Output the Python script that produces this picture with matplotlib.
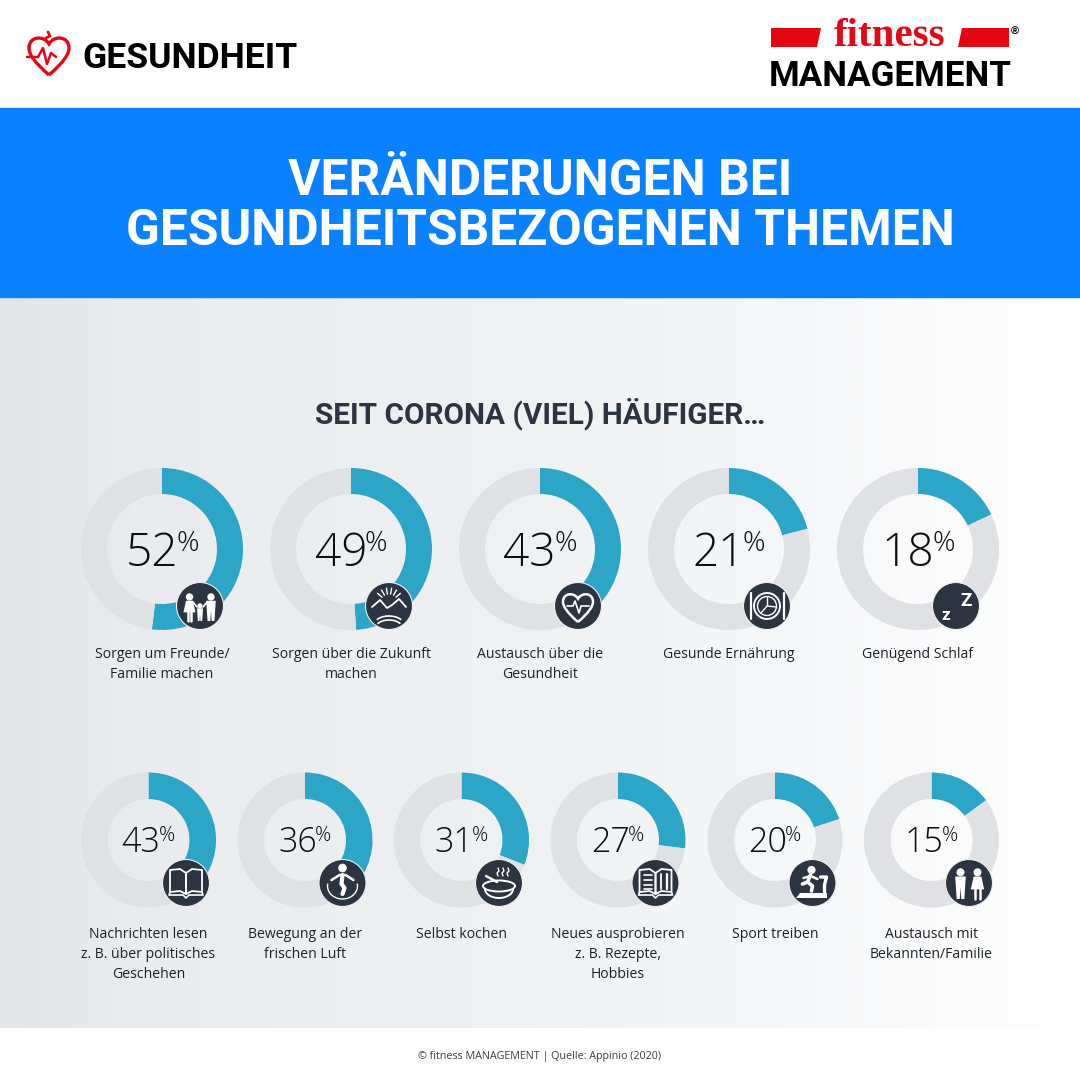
"""Donut infographic: Veränderungen bei gesundheitsbezogenen Themen."""

import matplotlib

matplotlib.use("Agg")
import matplotlib.pyplot as plt
import numpy as np
from matplotlib.patches import Circle, Ellipse, PathPatch, Polygon, Rectangle
from matplotlib.path import Path

TITLE_LINES = ["VERÄNDERUNGEN BEI", "GESUNDHEITSBEZOGENEN THEMEN"]
SUBTITLE = "SEIT CORONA (VIEL) HÄUFIGER…"
FOOTER = "© fitness MANAGEMENT | Quelle: Appinio (2020)"

top_values = [52, 49, 43, 21, 18]
top_labels = [
    "Sorgen um Freunde/\nFamilie machen",
    "Sorgen über die Zukunft\nmachen",
    "Austausch über die\nGesundheit",
    "Gesunde Ernährung",
    "Genügend Schlaf",
]
top_icons = ["family", "horizon", "heart", "plate", "sleep"]

bottom_values = [43, 36, 31, 27, 20, 15]
bottom_labels = [
    "Nachrichten lesen\nz. B. über politisches\nGeschehen",
    "Bewegung an der\nfrischen Luft",
    "Selbst kochen",
    "Neues ausprobieren\nz. B. Rezepte,\nHobbies",
    "Sport treiben",
    "Austausch mit\nBekannten/Familie",
]
bottom_icons = ["book", "rope", "pan", "recipe", "treadmill", "couple"]

TEAL = "#2ca5c6"
GREY = "#dfe1e5"
DARK = "#2b3440"
BLUE = "#0a82ff"
RED = "#e30613"
TEXT = "#1d2126"

plt.rcParams["font.family"] = ["Open Sans", "DejaVu Sans"]

fig = plt.figure(figsize=(10.8, 10.8), dpi=100, facecolor="white")
ax = fig.add_axes([0, 0, 1, 1])


def px(size):
    return size * 0.72


def line(xs, ys, color="white", lw=1.2, z=6):
    ax.plot(xs, ys, color=color, lw=lw, zorder=z, solid_capstyle="round", solid_joinstyle="round")


def poly(points, color="white", z=6, fill=True, lw=1.2):
    ax.add_patch(Polygon(points, closed=True, fill=fill, facecolor=color if fill else "none",
                         edgecolor=color, lw=lw if not fill else 0, zorder=z, joinstyle="round"))


def person(cx, top, h, dress=False):
    w = h * 0.16
    ax.add_patch(Circle((cx, top + h * 0.11), h * 0.11, color="white", zorder=6))
    if dress:
        poly([(cx - w * 0.8, top + h * 0.25), (cx + w * 0.8, top + h * 0.25),
              (cx + w * 1.4, top + h * 0.68), (cx - w * 1.4, top + h * 0.68)])
        line([cx - w * 0.45, cx - w * 0.45], [top + h * 0.68, top + h], lw=1.8)
        line([cx + w * 0.45, cx + w * 0.45], [top + h * 0.68, top + h], lw=1.8)
    else:
        poly([(cx - w * 1.1, top + h * 0.25), (cx + w * 1.1, top + h * 0.25), (cx + w * 0.8, top + h),
              (cx + w * 0.15, top + h), (cx, top + h * 0.62), (cx - w * 0.15, top + h), (cx - w * 0.8, top + h)])


def draw_icon(kind, x, y, r=23.5):
    ax.add_patch(Circle((x, y), r, fc=DARK, ec="#eceef0", lw=0.8, zorder=5))
    if kind == "family":
        person(x - 10.5, y - 12, 27, dress=True)
        person(x + 11, y - 12, 27)
        person(x, y - 2, 17)
        line([x - 7, x - 3], [y - 4, y + 1])
        line([x + 7, x + 3], [y - 4, y + 1])
    elif kind == "horizon":
        line([x - 17, x - 9, x - 2, x + 3, x + 10, x + 17], [y + 1, y - 6, y + 2, y - 1, y - 7, y + 1], lw=1.3)
        for a in np.radians([-140, -120, -100, -80, -60, -40]):
            line([x + 9 * np.cos(a), x + 15 * np.cos(a)], [y - 3 + 9 * np.sin(a), y - 3 + 15 * np.sin(a)], lw=1)
        t = np.linspace(-0.9, 0.9, 20)
        line(x + 15 * np.sin(t), y + 19 - 9 * np.cos(t), lw=1.2)
        line(x + 14 * np.sin(t), y + 23 - 9 * np.cos(t), lw=1.2)
    elif kind == "heart":
        heart_outline(x, y + 1, 15, "white", 1.8, 6)
        line([x - 11, x - 5, x - 3, x + 1, x + 3, x + 11], [y, y, y - 5, y + 7, y, y], lw=1.2)
    elif kind == "plate":
        ax.add_patch(Circle((x, y), 13, fill=False, ec="white", lw=1.4, zorder=6))
        ax.add_patch(Circle((x, y), 9.5, fill=False, ec="white", lw=1, zorder=6))
        line([x, x], [y, y - 9.5], lw=1)
        line([x, x + 9.5], [y, y + 1], lw=1)
        line([x, x - 6], [y, y + 7], lw=1)
        line([x - 16.5, x - 16.5], [y - 13, y + 13], lw=1.6)
        line([x + 16.5, x + 16.5], [y - 13, y + 13], lw=1.6)
    elif kind == "sleep":
        ax.text(x + 4, y - 5, "Z", color="white", fontsize=px(19), fontweight="bold", ha="left",
                va="center", zorder=6, family=["Roboto", "DejaVu Sans"])
        ax.text(x - 6, y + 9, "z", color="white", fontsize=px(17), fontweight="bold", ha="right",
                va="center", zorder=6, family=["Roboto", "DejaVu Sans"])
    elif kind in ("book", "recipe"):
        poly([(x - 16, y - 13), (x - 6, y - 14), (x, y - 10), (x, y + 11), (x - 6, y + 8), (x - 16, y + 9)],
             fill=False, lw=1.3)
        poly([(x + 16, y - 13), (x + 6, y - 14), (x, y - 10), (x, y + 11), (x + 6, y + 8), (x + 16, y + 9)],
             fill=False, lw=1.3)
        line([x - 16, x - 17, x - 3, x, x + 3, x + 17, x + 16],
             [y + 9, y + 12, y + 12, y + 15, y + 12, y + 12, y + 9], lw=1.2)
        if kind == "recipe":
            for dy in (-8, -3, 2, 6):
                line([x - 12, x - 4], [y + dy, y + dy], lw=1.2)
            line([x + 5, x + 5], [y - 9, y + 6], lw=1.3)
            line([x + 11, x + 11], [y - 9, y + 6], lw=1.6)
    elif kind == "rope":
        t = np.linspace(-0.15, np.pi + 0.15, 30)
        line(x + 15 * np.cos(t), y + 3 + 13 * np.sin(t), lw=1)
        ax.add_patch(Circle((x, y - 15), 3.6, color="white", zorder=6))
        line([x - 11, x - 3, x + 3, x + 11], [y - 3, y - 8, y - 8, y - 3], lw=1.8)
        line([x, x - 1, x + 2, x], [y - 8, y + 1, y + 5, y + 11], lw=3)
    elif kind == "pan":
        ax.add_patch(Ellipse((x, y + 3), 32, 11, fill=False, ec="white", lw=1.4, zorder=6))
        t = np.linspace(0, np.pi, 20)
        line(x + 14 * np.cos(t), y + 6 + 9 * np.sin(t), lw=1.4)
        line([x - 2, x - 13], [y - 1, y - 7], lw=1.8)
        for dx in (-1, 4, 9):
            line([x + dx, x + dx + 1, x + dx - 1, x + dx], [y - 15, y - 12, y - 10, y - 7], lw=1)
    elif kind == "treadmill":
        ax.add_patch(Circle((x - 1, y - 13), 3.4, color="white", zorder=6))
        line([x - 2, x - 5, x - 10], [y - 8, y - 1, y + 1], lw=2.6)
        line([x - 5, x, x - 1], [y - 1, y + 3, y + 8], lw=2.6)
        line([x - 2, x + 5], [y - 7, y - 4], lw=1.8)
        line([x - 2, x - 9], [y - 7, y - 5], lw=1.8)
        line([x + 8, x + 14, x + 12, x + 12], [y - 6, y - 6, y + 2, y + 12], lw=2.4)
        poly([(x - 13, y + 10), (x + 14, y + 10), (x + 14, y + 15), (x - 17, y + 15)])
    elif kind == "couple":
        person(x - 8.5, y - 14, 30)
        person(x + 8.5, y - 14, 30, dress=True)


def heart_outline(x, y, s, color, lw, z):
    verts = [(x, y + s), (x - s * 0.75, y + s * 0.35), (x - s, y - s * 0.05), (x - s, y - s * 0.35),
             (x - s, y - s * 0.95), (x - s * 0.25, y - s), (x, y - s * 0.55),
             (x + s * 0.25, y - s), (x + s, y - s * 0.95), (x + s, y - s * 0.35),
             (x + s, y - s * 0.05), (x + s * 0.75, y + s * 0.35), (x, y + s)]
    codes = [Path.MOVETO] + [Path.CURVE4] * 12
    ax.add_patch(PathPatch(Path(verts, codes), fill=False, ec=color, lw=lw, zorder=z))


def draw_donut(value, label, icon, cx, cy, radius, hole, num_size, pct_size, num_x, num_dy, pct_x, pct_dy,
               icon_dx, icon_dy, label_y):
    ax.pie([value, 100 - value], colors=[TEAL, GREY], center=(cx, cy), radius=radius,
           startangle=-90, counterclock=True, frame=True,
           wedgeprops={"width": radius - hole, "linewidth": 0})
    ax.text(cx + num_x, cy + num_dy, str(value), fontsize=px(num_size), fontweight="light", color="#0c0e10",
            ha="right", va="center", zorder=4)
    ax.text(cx + pct_x, cy + pct_dy, "%", fontsize=px(pct_size), fontweight="light", color="#0c0e10",
            ha="left", va="center", zorder=4)
    draw_icon(icon, cx + icon_dx, cy + icon_dy)
    ax.text(cx, label_y, label, fontsize=px(14), color=TEXT, ha="center", va="top",
            linespacing=1.45, zorder=4)


# background bands
gradient = np.linspace(0, 1, 512).reshape(1, -1)
cmap = matplotlib.colors.LinearSegmentedColormap.from_list(
    "bg", [(0, "#e3e5e8"), (0.12, "#e9ebee"), (0.5, "#f0f1f3"), (0.8, "#f8f9fa"), (1, "#ffffff")])
ax.imshow(gradient, extent=(0, 1080, 1028, 297), cmap=cmap, aspect="auto", zorder=0)
ax.add_patch(Rectangle((0, 108), 1080, 189, color=BLUE, zorder=1))

# header logos
heart_outline(49, 55, 20, RED, 2.4, 3)
line([27, 38, 43, 47, 51, 56], [57, 57, 48, 64, 53, 57], color=RED, lw=1.8)
line([46, 50, 48], [38, 36, 32], color=RED, lw=2)
ax.text(82, 68, "GESUNDHEIT", fontsize=px(35.5), fontweight="bold", color="black", ha="left", va="baseline",
        family=["Roboto", "DejaVu Sans"])
poly([(771, 28), (821, 28), (817, 47), (771, 47)], color=RED)
poly([(962, 28), (1009, 28), (1009, 47), (958, 47)], color=RED)
ax.text(889.5, 46, "fitness", fontsize=px(41), fontweight="bold", color=RED, ha="center", va="baseline",
        family=["Liberation Serif", "DejaVu Serif"])
ax.text(1015, 32, "®", fontsize=px(11), color="black", ha="center", va="center", fontweight="bold",
        family=["Liberation Sans", "DejaVu Sans"])
ax.text(890, 86, "MANAGEMENT", fontsize=px(35), fontweight="bold", color="black", ha="center", va="baseline",
        family=["Roboto", "DejaVu Sans"])

# headings
for text, y in zip(TITLE_LINES, [195, 245]):
    ax.text(540, y, text, fontsize=px(49.8), fontweight="bold", color="white", ha="center", va="baseline",
            family=["Roboto", "DejaVu Sans"], zorder=3)
ax.text(540, 423, SUBTITLE, fontsize=px(29.8), fontweight="bold", color=DARK, ha="center", va="baseline",
        family=["Roboto", "DejaVu Sans"], zorder=3)

# donuts
for value, label, icon, cx in zip(top_values, top_labels, top_icons, [162, 351, 540, 729, 918]):
    draw_donut(value, label, icon, cx, 549, 81, 55, 46, 28, 16, 5, 14, -5, 38, 57, 647)
for value, label, icon, cx in zip(bottom_values, bottom_labels, bottom_icons, [148.5, 305, 461.5, 618, 775, 931.5]):
    draw_donut(value, label, icon, cx, 840, 67.5, 41, 34, 20, 12, 3, 10, -4, 37.5, 43, 927)

ax.text(540, 1056, FOOTER, fontsize=px(10.7), color="#3a3f45", ha="center", va="center")

ax.set_xlim(0, 1080)
ax.set_ylim(1080, 0)
ax.axis("off")
fig.savefig("out.png", dpi=100)
